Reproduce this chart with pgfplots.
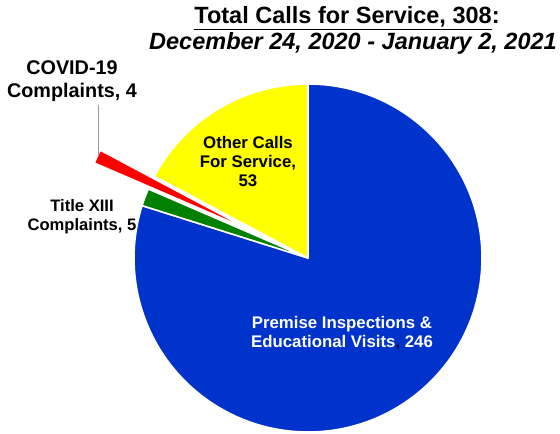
\documentclass[border=0pt]{standalone}
\usepackage{fontspec}
\setmainfont{Liberation Sans}
\usepackage{pgfplots}
\usepackage{pgfplotstable}
\pgfplotsset{compat=1.18}
\usetikzlibrary{calc}

\definecolor{premblue}{RGB}{0,51,204}
\definecolor{titlegreen}{RGB}{0,128,0}
\definecolor{covidred}{RGB}{255,0,0}
\definecolor{otheryellow}{RGB}{255,255,0}

% calls for service, in pie order (clockwise from 12 o'clock)
\pgfplotstableread{
name value
Premise 246
TitleXIII 5
COVID 4
Other 53
}\piedata

\begin{document}
\begin{tikzpicture}
\pgfplotstablegetelem{0}{value}\of\piedata \let\vA\pgfplotsretval
\pgfplotstablegetelem{1}{value}\of\piedata \let\vB\pgfplotsretval
\pgfplotstablegetelem{2}{value}\of\piedata \let\vC\pgfplotsretval
\pgfplotstablegetelem{3}{value}\of\piedata \let\vD\pgfplotsretval
\pgfmathsetmacro\total{\vA+\vB+\vC+\vD}
\pgfmathsetmacro\aA{90}
\pgfmathsetmacro\aB{\aA-360*(\vA/\total)}
\pgfmathsetmacro\aC{\aB-360*(\vB/\total)}
\pgfmathsetmacro\aD{\aC-360*(\vC/\total)}
\pgfmathsetmacro\aE{\aD-360*(\vD/\total)}
\pgfmathsetmacro\mC{(\aC+\aD)/2}
\def\R{174pt}

\useasboundingbox (0,0) rectangle (560pt,434pt);
\begin{axis}[
at={(0,0)}, anchor=south west,
scale only axis,
width=560pt, height=434pt,
xmin=0, xmax=560, ymin=0, ymax=434,
y dir=reverse,
hide axis,
clip=false
]
% slices
\filldraw[fill=premblue, draw=white, line width=1.6pt, line join=round]
  (axis cs:308,258) -- ++(\aA:\R) arc[start angle=\aA, end angle=\aB, radius=\R] -- cycle;
\filldraw[fill=titlegreen, draw=white, line width=1.6pt, line join=round]
  (axis cs:308,258) -- ++(\aB:\R) arc[start angle=\aB, end angle=\aC, radius=\R] -- cycle;
\filldraw[fill=covidred, draw=white, line width=1.6pt, line join=round]
  ($(axis cs:308,258)+(\mC:60pt)$) -- ++(\aC:\R) arc[start angle=\aC, end angle=\aD, radius=\R] -- cycle;
\filldraw[fill=otheryellow, draw=white, line width=1.6pt, line join=round]
  (axis cs:308,258) -- ++(\aD:\R) arc[start angle=\aD, end angle=\aE, radius=\R] -- cycle;

% leader line
\draw[black!40, line width=1pt] (axis cs:98,105) -- (axis cs:98,156);

% title
\node[font=\fontsize{23.5}{28}\selectfont\bfseries, inner sep=0pt] at (axis cs:347,18)
  {\underline{Total Calls for Service, 308}:};
\node[font=\fontsize{23.5}{28}\selectfont\bfseries\itshape, inner sep=0pt] at (axis cs:353,43)
  {December 24, 2020 - January 2, 2021};

% slice labels
\node[font=\fontsize{19.8}{22.5}\selectfont\bfseries, align=center, inner sep=0pt] at (axis cs:72,81)
  {COVID-19\\Complaints, 4};
\node[font=\fontsize{16.6}{19}\selectfont\bfseries, align=center, inner sep=0pt] at (axis cs:82,217)
  {Title XIII\\Complaints, 5};
\node[font=\fontsize{16.8}{19}\selectfont\bfseries, align=center, inner sep=0pt] at (axis cs:248,162)
  {Other Calls\\For Service,\\53};
\node[font=\fontsize{16.8}{19}\selectfont\bfseries, text=white, align=center, inner sep=0pt] at (axis cs:342,333)
  {Premise Inspections \&\\Educational Visits\textcolor{black!70!premblue}{,} 246};
\end{axis}
\end{tikzpicture}
\end{document}
